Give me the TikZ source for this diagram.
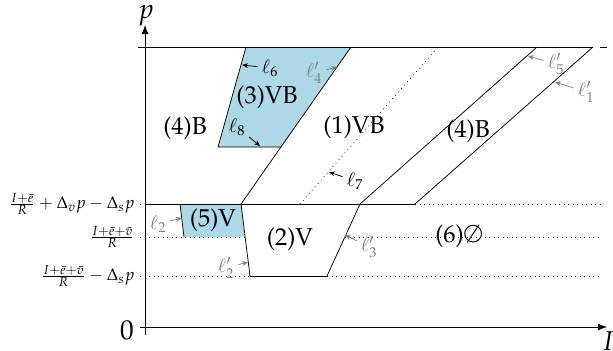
\documentclass[tikz,border=0pt]{standalone}
\usepackage[T1]{fontenc}
\usepackage{mathpazo}
\usetikzlibrary{arrows.meta}
\definecolor{regblue}{RGB}{173,216,230}

\begin{document}
\begin{tikzpicture}[
  x=0.187mm, y=-0.187mm,
  region/.style={font=\fontsize{13}{15}\selectfont,inner sep=1pt},
  lab/.style={font=\normalsize,inner sep=1pt},
  glab/.style={lab,text=gray},
  alab/.style={font=\fontsize{14.5}{17}\selectfont,inner sep=0pt},
  ylab/.style={font=\fontsize{9}{10}\selectfont,inner sep=0pt,anchor=east},
  arrow/.style={-{Stealth[length=1.1mm,width=0.9mm]},shorten <=1pt},
  garrow/.style={arrow,gray},
  axis/.style={-{Latex[length=1.7mm,width=1.3mm]}},
  level/.style={dotted}
]
\useasboundingbox (0,0) rectangle (613,350);

% Corners
\coordinate (p5tl) at (180,204);
\coordinate (p5tr) at (241,204);
\coordinate (p5br) at (245,237);
\coordinate (p5bl) at (184,237);
\coordinate (p3tl) at (246,47);
\coordinate (p3tr) at (351,47);
\coordinate (p3br) at (281,147);
\coordinate (p3bl) at (218,147);
\coordinate (p2tr) at (360,204);
\coordinate (p2br) at (327,276);
\coordinate (p2bl) at (250,276);
\coordinate (p3m) at (345,237);
\coordinate (q1) at (415,204);
\coordinate (t5) at (537,47);
\coordinate (t1) at (593,47);
\coordinate (r7b) at (300,204);
\coordinate (r7t) at (438,47);

% Regions
\fill[regblue] (p5tl) -- (p5tr) -- (p5br) -- (p5bl) -- cycle;
\fill[regblue] (p3tl) -- (p3tr) -- (p3br) -- (p3bl) -- cycle;

% Axes
\draw[axis] (145,335) -- (145,25);
\draw[axis] (140,327) -- (607,327);
\node[alab] (pl) at (146,16) {$p$};
\node[alab] (il) at (608,341) {$I$};
\node[alab,anchor=east] (zero) at (134,330) {$0$};

% Levels
\draw (138,47) -- (t1);
\draw (600,47) -- (607,47);
\draw[level] (140,204) -- (145,204);
\draw (145,204) -- (q1);
\draw[level] (q1) -- (600,204);
\draw[level] (140,237) -- (p5br);
\draw[level] (p3m) -- (600,237);
\draw[level] (140,276) -- (p2bl);
\draw (p2bl) -- (p2br);
\draw[level] (p2br) -- (600,276);

\node[ylab] (lva) at (135,204) {$\frac{I+\bar{e}}{R}+\Delta_v p-\Delta_s p$};
\node[ylab] (lvb) at (135,237) {$\frac{I+\bar{e}+\bar{v}}{R}$};
\node[ylab] (lvc) at (135,276) {$\frac{I+\bar{e}+\bar{v}}{R}-\Delta_s p$};

% Boundaries
\draw (p3tl) -- (p3bl) -- (p3br);
\draw (p3tr) -- (p5tr);
\draw (p5tl) -- (p5bl);
\draw (p5tr) -- (p2bl);
\draw (p2tr) -- (p2br);
\draw (p2tr) -- (t5);
\draw (q1) -- (t1);
\draw[level] (r7b) -- (r7t);

% Region names
\node[region] (r4a) at (185,128) {(4)B};
\node[region] (r3) at (267,97) {(3)VB};
\node[region] (r1) at (354,127) {(1)VB};
\node[region] (r4b) at (468,131) {(4)B};
\node[region] (r5) at (213,220) {(5)V};
\node[region] (r2) at (290,239) {(2)V};
\node[region] (r6) at (459,236) {(6)$\emptyset$};

% Line names
\node[lab] (l6) at (270,68) {$\ell_6$};
\coordinate (l6t) at (242,65);
\node[lab] (l8) at (237,127) {$\ell_8$};
\coordinate (l8t) at (260,146);
\node[lab] (l7) at (355,181) {$\ell_7$};
\coordinate (l7t) at (329,172);
\node[glab] (l4) at (314,73) {$\ell_4'$};
\coordinate (l4t) at (337,67);
\node[glab] (l5) at (556,64) {$\ell_5'$};
\coordinate (l5t) at (528,56);
\node[glab] (l1) at (586,92) {$\ell_1'$};
\coordinate (l1t) at (555,82);
\node[glab] (l3) at (369,247) {$\ell_3'$};
\coordinate (l3t) at (345,235);
\node[glab] (l2) at (158,224) {$\ell_2$};
\coordinate (l2t) at (182,218);
\node[glab] (l2p) at (226,268) {$\ell_2'$};
\coordinate (l2pt) at (248,262);

\draw[arrow] (l6) -- (l6t);
\draw[arrow] (l8) -- (l8t);
\draw[arrow] (l7) -- (l7t);
\draw[garrow] (l4) -- (l4t);
\draw[garrow] (l5) -- (l5t);
\draw[garrow] (l1) -- (l1t);
\draw[garrow] (l3) -- (l3t);
\draw[garrow] (l2) -- (l2t);
\draw[garrow] (l2p) -- (l2pt);

\end{tikzpicture}
\end{document}
